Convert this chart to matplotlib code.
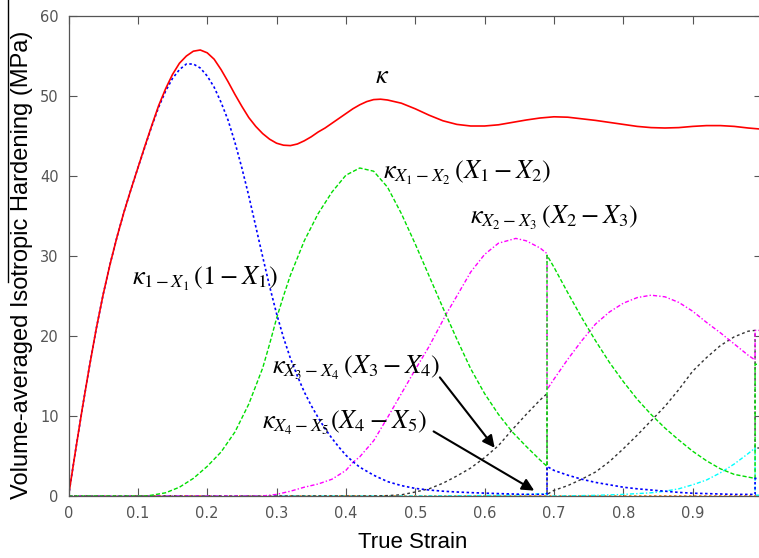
import matplotlib.pyplot as plt
from matplotlib.lines import Line2D

# total isotropic hardening (kappa)
strain_k = [0, 0.01, 0.02, 0.03, 0.04, 0.05, 0.06, 0.07, 0.08, 0.09, 0.10, 0.11, 0.12,
            0.13, 0.14, 0.15, 0.16, 0.17, 0.18, 0.19, 0.20, 0.21, 0.22, 0.23, 0.24, 0.25,
            0.26, 0.27, 0.28, 0.29, 0.30, 0.31, 0.32, 0.33, 0.34, 0.35, 0.36, 0.37, 0.38,
            0.39, 0.40, 0.41, 0.42, 0.43, 0.44, 0.45, 0.46, 0.48, 0.50, 0.52, 0.54, 0.56,
            0.58, 0.60, 0.62, 0.64, 0.66, 0.68, 0.70, 0.72, 0.74, 0.76, 0.78, 0.80, 0.82,
            0.84, 0.86, 0.88, 0.90, 0.92, 0.94, 0.96, 0.98, 1.00]
kappa = [0, 5.6, 11.0, 16.1, 20.9, 25.2, 29.0, 32.4, 35.5, 38.3, 41.0, 43.7, 46.3,
         48.8, 50.9, 52.7, 54.1, 55.0, 55.6, 55.75, 55.4, 54.6, 53.3, 51.8, 50.2, 48.7,
         47.3, 46.2, 45.3, 44.6, 44.1, 43.85, 43.8, 44.0, 44.4, 44.9, 45.5, 46.0, 46.6,
         47.2, 47.8, 48.4, 48.9, 49.3, 49.55, 49.6, 49.5, 49.1, 48.4, 47.6, 46.9, 46.45,
         46.25, 46.25, 46.4, 46.7, 47.0, 47.25, 47.4, 47.35, 47.15, 46.95, 46.7, 46.45, 46.2,
         46.05, 46.0, 46.05, 46.2, 46.3, 46.3, 46.2, 46.0, 45.85]

# kappa_{1-X1}
strain_1 = [0, 0.01, 0.02, 0.03, 0.04, 0.05, 0.06, 0.07, 0.08, 0.09, 0.10, 0.11, 0.12,
            0.13, 0.14, 0.15, 0.16, 0.17, 0.18, 0.19, 0.20, 0.21, 0.22, 0.23, 0.24, 0.25,
            0.26, 0.27, 0.28, 0.29, 0.30, 0.31, 0.32, 0.33, 0.34, 0.35, 0.36, 0.37, 0.38,
            0.39, 0.40, 0.41, 0.42, 0.44, 0.46, 0.48, 0.50, 0.52, 0.54, 0.56, 0.58, 0.60,
            0.62, 0.64, 0.66, 0.69, 0.69, 0.70, 0.72, 0.74, 0.76, 0.78, 0.80, 0.82, 0.84,
            0.86, 0.88, 0.90, 0.92, 0.94, 0.96, 0.99, 0.99, 1.00]
k_1x1 = [0, 5.6, 11.0, 16.1, 20.9, 25.2, 29.0, 32.4, 35.5, 38.3, 41.0, 43.6, 46.2,
         48.6, 50.6, 52.2, 53.3, 54.0, 54.0, 53.5, 52.5, 51.1, 49.2, 47.0, 44.2, 41.0,
         37.5, 33.7, 29.9, 26.2, 22.8, 19.8, 17.2, 15.0, 13.0, 11.3, 9.8, 8.4, 7.2,
         6.1, 5.1, 4.3, 3.6, 2.6, 1.8, 1.3, 0.95, 0.75, 0.6, 0.5, 0.42, 0.36,
         0.3, 0.25, 0.2, 0.2, 3.7, 3.2, 2.6, 2.1, 1.7, 1.4, 1.1, 0.9, 0.75,
         0.6, 0.45, 0.35, 0.3, 0.25, 0.2, 0.2, 2.2, 2.2]

# kappa_{X1-X2}
strain_12 = [0, 0.11, 0.12, 0.14, 0.16, 0.18, 0.20, 0.22, 0.24, 0.26, 0.28, 0.29, 0.30,
             0.31, 0.32, 0.34, 0.36, 0.38, 0.40, 0.42, 0.44, 0.46, 0.48, 0.50, 0.52, 0.54,
             0.56, 0.58, 0.60, 0.62, 0.64, 0.66, 0.68, 0.69, 0.69, 0.70, 0.72, 0.74, 0.76,
             0.78, 0.80, 0.82, 0.84, 0.86, 0.88, 0.90, 0.92, 0.94, 0.96, 0.99, 0.99, 1.00]
k_x1x2 = [0, 0, 0.1, 0.4, 1.1, 2.2, 3.7, 5.5, 8.0, 11.5, 16.0, 19.0, 22.2,
          25.0, 27.6, 31.9, 35.3, 38.0, 40.1, 41.0, 40.6, 38.6, 35.3, 31.5, 27.5, 23.5,
          19.6, 15.9, 12.8, 10.2, 8.0, 6.2, 4.5, 3.7, 30.1, 28.6, 25.4, 22.3, 19.4,
          16.7, 14.3, 12.1, 10.2, 8.5, 7.0, 5.6, 4.4, 3.4, 2.7, 2.2, 16.5, 16.3]

# kappa_{X2-X3}
strain_23 = [0, 0.28, 0.30, 0.32, 0.34, 0.36, 0.38, 0.40, 0.41, 0.42, 0.44, 0.46, 0.48,
             0.50, 0.52, 0.545, 0.56, 0.58, 0.60, 0.62, 0.645, 0.66, 0.68, 0.69, 0.69, 0.70,
             0.72, 0.74, 0.76, 0.78, 0.80, 0.82, 0.84, 0.86, 0.88, 0.90, 0.92, 0.94, 0.96,
             0.98, 0.99, 0.99, 1.00]
k_x2x3 = [0, 0, 0.2, 0.6, 1.1, 1.5, 2.1, 3.2, 4.2, 4.9, 6.9, 9.8, 12.8,
          15.8, 18.7, 22.8, 25.0, 28.0, 30.2, 31.6, 32.2, 31.9, 31.0, 30.3, 13.3, 14.6,
          17.1, 19.4, 21.5, 23.0, 24.1, 24.8, 25.1, 24.9, 24.2, 23.1, 21.7, 20.4, 19.0,
          17.6, 17.0, 20.7, 20.7]

# kappa_{X3-X4}
strain_34 = [0, 0.44, 0.46, 0.48, 0.50, 0.52, 0.54, 0.56, 0.58, 0.60, 0.62, 0.64, 0.66,
             0.68, 0.69, 0.69, 0.70, 0.72, 0.74, 0.76, 0.78, 0.80, 0.82, 0.84, 0.86, 0.88,
             0.90, 0.92, 0.94, 0.96, 0.98, 0.99, 0.99, 1.00]
k_x3x4 = [0, 0, 0.05, 0.15, 0.5, 0.9, 1.6, 2.5, 3.5, 4.8, 6.3, 8.3, 10.2,
          12.0, 12.8, 0.2, 0.7, 1.3, 2.1, 3.0, 4.3, 5.9, 7.6, 9.4, 11.2, 13.3,
          15.6, 17.3, 18.8, 19.9, 20.6, 20.7, 6.0, 6.0]

# kappa_{X4-X5}
strain_45 = [0, 0.50, 0.55, 0.60, 0.65, 0.69, 0.69, 0.72, 0.76, 0.80, 0.84, 0.86, 0.88,
             0.90, 0.92, 0.94, 0.96, 0.98, 0.99, 0.99, 1.00]
k_x4x5 = [0, 0, 0.02, 0.06, 0.15, 0.3, 0, 0.02, 0.08, 0.2, 0.4, 0.6, 0.9,
          1.4, 2.0, 2.9, 4.0, 5.3, 6.0, 0.1, 0.1]

# remaining (zero) term
strain_rest = [0, 1.0]
k_rest = [0, 0]

fig = plt.figure(figsize=(7.59, 5.58), dpi=100)
ax = fig.add_axes([68.5 / 759, 62 / 558, 693.5 / 759, 480 / 558])

ax.plot(strain_rest, k_rest, color='#ff7f00', lw=1.2, linestyle=(0, (1.5, 1.5)))
ax.plot(strain_45, k_x4x5, color='#00ffff', lw=1.0, linestyle=(0, (3, 1.5, 1, 1.5)))
ax.plot(strain_34, k_x3x4, color='#333333', lw=1.0, linestyle=(0, (2, 2)))
ax.plot(strain_23, k_x2x3, color='#ff00ff', lw=1.0, linestyle=(0, (3, 1.5, 1, 1.5)))
ax.plot(strain_12, k_x1x2, color='#00dd00', lw=1.0, linestyle=(0, (3, 1.5)))
ax.plot(strain_1, k_1x1, color='#0000ff', lw=1.2, linestyle=(0, (1.5, 1.5)))
ax.plot(strain_k, kappa, color='#ff0000', lw=1.2)

ax.set_xlim(0, 1)
ax.set_ylim(0, 60)
ax.set_xticks([0, 0.1, 0.2, 0.3, 0.4, 0.5, 0.6, 0.7, 0.8, 0.9, 1])
ax.set_xticklabels(['0', '0.1', '0.2', '0.3', '0.4', '0.5', '0.6', '0.7', '0.8', '0.9', '1'])
ax.set_yticks([0, 10, 20, 30, 40, 50, 60])
ax.tick_params(direction='in', length=6, width=0.8, colors='#555555', labelsize=10.5,
               top=True, right=True, pad=7)
for s in ax.spines.values():
    s.set_color('#555555')
    s.set_linewidth(0.9)

plt.rcParams['mathtext.fontset'] = 'stix'
mfs = 19
ax.text(0.442, 51.6, r'$\kappa$', fontsize=mfs, ha='left', va='baseline')
ax.text(0.453, 40.4, r'$\kappa_{X_1-X_2}\,(X_1-X_2)$', fontsize=mfs, ha='left', va='center')
ax.text(0.5785, 34.75, r'$\kappa_{X_2-X_3}\,(X_2-X_3)$', fontsize=mfs, ha='left', va='center')
ax.text(0.0915, 27.1, r'$\kappa_{1-X_1}\,(1-X_1)$', fontsize=mfs, ha='left', va='center')
ax.text(0.293, 16.0, r'$\kappa_{X_3-X_4}\,(X_3-X_4)$', fontsize=mfs, ha='left', va='center')
ax.text(0.279, 9.1, r'$\kappa_{X_4-X_5}(X_4-X_5)$', fontsize=mfs, ha='left', va='center')

arrow = dict(arrowstyle='-|>', color='black', lw=1.5, mutation_scale=18)
ax.annotate('', xy=(0.617, 5.75), xytext=(0.533, 15.1), arrowprops=arrow)
ax.annotate('', xy=(0.675, 0.5), xytext=(0.523, 8.25), arrowprops=arrow)

fig.text(413 / 759, 1 - 543 / 558, 'True Strain', fontsize=16, family='Liberation Sans',
         ha='center', va='center')
fig.text(22 / 759, 1 - 265 / 558, 'Volume-averaged Isotropic Hardening (MPa)', fontsize=17,
         family='Liberation Sans', rotation=90, ha='center', va='center')
fig.add_artist(Line2D([8 / 759, 8 / 759], [1.0, 1 - 282 / 558], transform=fig.transFigure,
                      color='black', lw=1.0))

fig.savefig('out.png', dpi=100)
